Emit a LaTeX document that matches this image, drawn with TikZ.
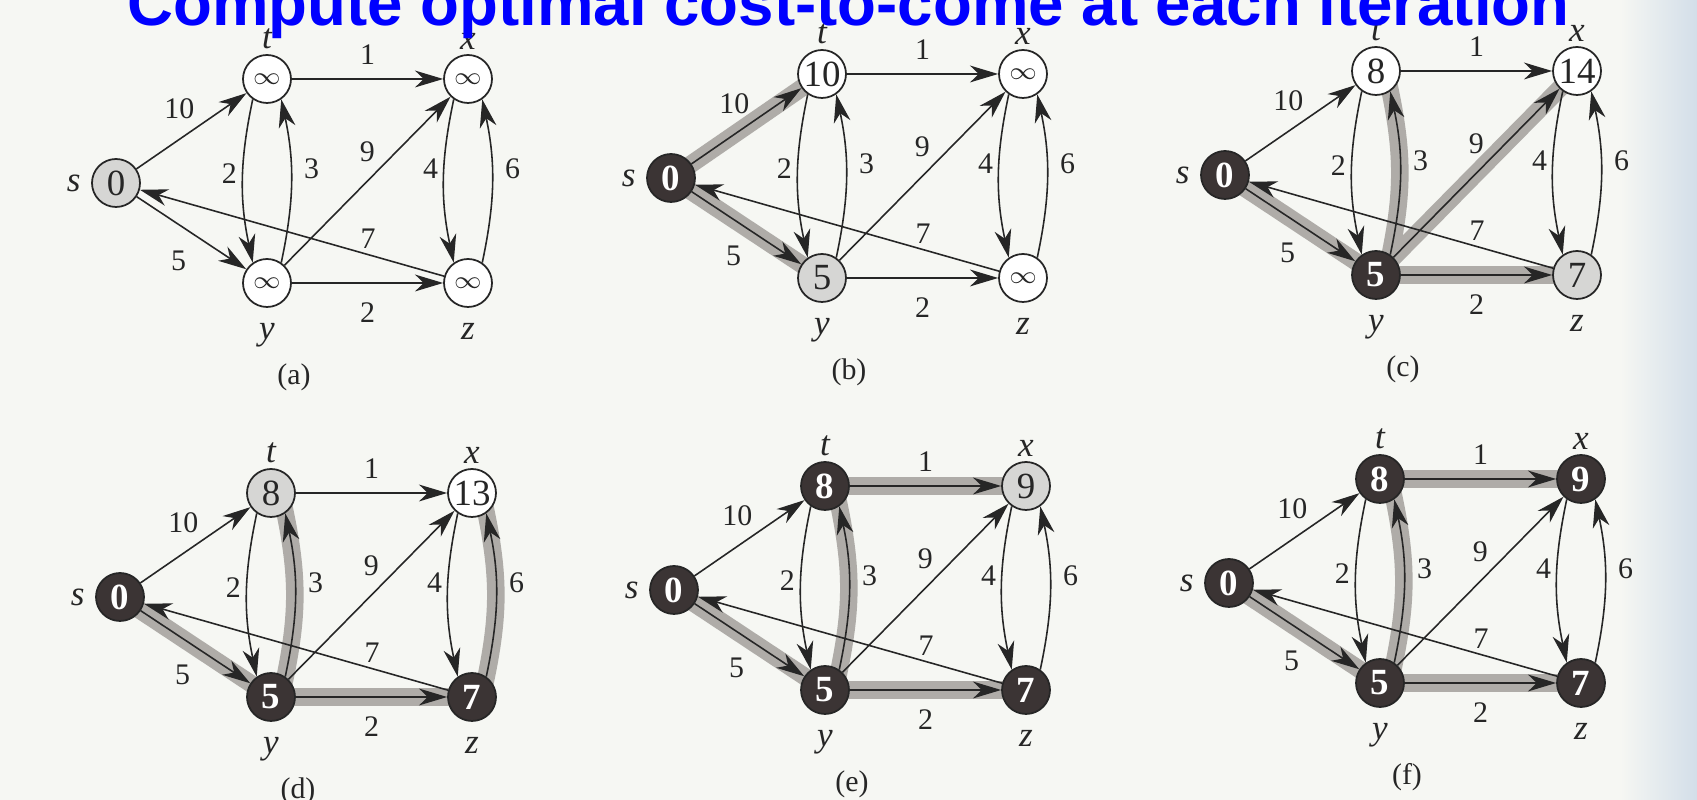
\documentclass[tikz,border=0pt]{standalone}
\usepackage{fontspec}
\setmainfont{Liberation Serif}
\newfontfamily\headfont{Liberation Sans}
\usepackage{tikz}
\usetikzlibrary{arrows.meta,positioning,backgrounds}
\usepackage{xcolor}
\definecolor{ink}{HTML}{262626}
\definecolor{nodegray}{HTML}{D6D6D4}
\definecolor{nodedark}{HTML}{3B3434}
\definecolor{bandgray}{HTML}{AFACA8}
\definecolor{paper}{HTML}{F6F7F3}
\definecolor{edgeblue}{HTML}{D3DEE9}
\definecolor{titleblue}{HTML}{0000FF}
\newcommand{\unreached}{{\fontsize{7.5}{8}\selectfont$\infty$}}

\begin{document}
\begin{tikzpicture}[
    vtx/.style={circle,draw=ink,line width=0.5pt,minimum size=0.48cm,inner sep=0pt,fill=#1,
        font=\fontsize{10.5}{12}\selectfont,text=ink},
    wnode/.style={vtx=white},
    gnode/.style={vtx=nodegray},
    bnode/.style={vtx=nodedark,text=white,font=\fontsize{10.5}{12}\selectfont\bfseries},
    nm/.style={font=\fontsize{10}{12}\selectfont\itshape,inner sep=0pt,text=ink},
    nleft/.style={label={[nm,xshift=-2.8pt]left:#1}},
    nup/.style={label={[nm,yshift=1.2pt]above:#1}},
    ndown/.style={label={[nm,yshift=-4.2pt]below:#1}},
    arr/.style={-{Stealth[length=8pt,width=4.8pt,inset=2.5pt]},line width=0.45pt,ink},
    band/.style={line width=5pt,bandgray},
    wt/.style={font=\fontsize{8.5}{10}\selectfont,inner sep=1.5pt,text=ink},
    subcap/.style={font=\fontsize{8.5}{10}\selectfont,text=ink}
]
\useasboundingbox (0,0) rectangle (16.97,8);

% (a)
\begin{scope}[shift={(1.16,6.17)}]
\node[gnode,nleft=s] (a-s) at (0,0) {0};
\node[wnode,nup=t] (a-t) at (1.51,1.04) {\unreached};
\node[wnode,nup=x] (a-x) at (3.52,1.04) {\unreached};
\node[wnode,ndown=y] (a-y) at (1.51,-1.0) {\unreached};
\node[wnode,ndown=z] (a-z) at (3.52,-1.0) {\unreached};
\node[subcap] (a-cap) at (1.78,-1.94) {(a)};
\end{scope}

% (b)
\begin{scope}[shift={(6.71,6.22)}]
\node[bnode,nleft=s] (b-s) at (0,0) {0};
\node[wnode,nup=t] (b-t) at (1.51,1.04) {10};
\node[wnode,nup=x] (b-x) at (3.52,1.04) {\unreached};
\node[gnode,ndown=y] (b-y) at (1.51,-1.0) {5};
\node[wnode,ndown=z] (b-z) at (3.52,-1.0) {\unreached};
\node[subcap] (b-cap) at (1.78,-1.94) {(b)};
\end{scope}

% (c)
\begin{scope}[shift={(12.25,6.25)}]
\node[bnode,nleft=s] (c-s) at (0,0) {0};
\node[wnode,nup=t] (c-t) at (1.51,1.04) {8};
\node[wnode,nup=x] (c-x) at (3.52,1.04) {14};
\node[bnode,ndown=y] (c-y) at (1.51,-1.0) {5};
\node[gnode,ndown=z] (c-z) at (3.52,-1.0) {7};
\node[subcap] (c-cap) at (1.78,-1.94) {(c)};
\end{scope}

% (d)
\begin{scope}[shift={(1.20,2.03)}]
\node[bnode,nleft=s] (d-s) at (0,0) {0};
\node[gnode,nup=t] (d-t) at (1.51,1.04) {8};
\node[wnode,nup=x] (d-x) at (3.52,1.04) {13};
\node[bnode,ndown=y] (d-y) at (1.51,-1.0) {5};
\node[bnode,ndown=z] (d-z) at (3.52,-1.0) {7};
\node[subcap] (d-cap) at (1.78,-1.94) {(d)};
\end{scope}

% (e)
\begin{scope}[shift={(6.74,2.10)}]
\node[bnode,nleft=s] (e-s) at (0,0) {0};
\node[bnode,nup=t] (e-t) at (1.51,1.04) {8};
\node[gnode,nup=x] (e-x) at (3.52,1.04) {9};
\node[bnode,ndown=y] (e-y) at (1.51,-1.0) {5};
\node[bnode,ndown=z] (e-z) at (3.52,-1.0) {7};
\node[subcap] (e-cap) at (1.78,-1.94) {(e)};
\end{scope}

% (f)
\begin{scope}[shift={(12.29,2.17)}]
\node[bnode,nleft=s] (f-s) at (0,0) {0};
\node[bnode,nup=t] (f-t) at (1.51,1.04) {8};
\node[bnode,nup=x] (f-x) at (3.52,1.04) {9};
\node[bnode,ndown=y] (f-y) at (1.51,-1.0) {5};
\node[bnode,ndown=z] (f-z) at (3.52,-1.0) {7};
\node[subcap] (f-cap) at (1.78,-1.94) {(f)};
\end{scope}

% shortest-path tree, under the nodes
\begin{scope}[on background layer]
\fill[paper] (0,0) rectangle (16.97,8);
\shade[left color=paper,right color=edgeblue] (16.2,0) rectangle (16.97,8);
\draw[band] (b-s.center) -- (b-t.center);
\draw[band] (b-s.center) -- (b-y.center);
\foreach \p in {c,d,e,f}{
  \draw[band] (\p-s.center) -- (\p-y.center);
  \draw[band] (\p-y.center) -- (\p-z.center);
  \draw[band,shorten <=-2pt,shorten >=-2pt] (\p-y.55) to[bend right=12] (\p-t.-55);
}
\draw[band] (c-y.center) -- (c-x.center);
\draw[band,shorten <=-2pt,shorten >=-2pt] (d-z.55) to[bend right=12] (d-x.-55);
\draw[band] (e-t.center) -- (e-x.center);
\draw[band] (f-t.center) -- (f-x.center);
\end{scope}

\foreach \p in {a,b,c,d,e,f}{
  \draw[arr] (\p-s) -- node[wt,pos=.58,above left] (\p-w10) {10} (\p-t);
  \draw[arr] (\p-s) -- node[wt,pos=.57,below left=2pt and 2pt] (\p-w5) {5} (\p-y);
  \draw[arr] (\p-t) -- node[wt,above=2.5pt] (\p-w1) {1} (\p-x);
  \draw[arr] (\p-y) -- node[wt,below=4pt] (\p-w2b) {2} (\p-z);
  \draw[arr] (\p-y) -- node[wt,pos=.58,above left] (\p-w9) {9} (\p-x);
  \draw[arr] (\p-z) -- node[wt,pos=.25,above] (\p-w7) {7} (\p-s);
  \draw[arr] (\p-t.235) to[bend right=12] node[wt,pos=.45,left] (\p-w2) {2} (\p-y.125);
  \draw[arr] (\p-y.55) to[bend right=12] node[wt,pos=.58,right=2pt] (\p-w3) {3} (\p-t.-55);
  \draw[arr] (\p-x.235) to[bend right=12] node[wt,pos=.42,left] (\p-w4) {4} (\p-z.125);
  \draw[arr] (\p-z.55) to[bend right=12] node[wt,pos=.58,right=2pt] (\p-w6) {6} (\p-x.-55);
}

\node[anchor=base,inner sep=0pt,text=titleblue,font=\headfont\bfseries\fontsize{18.1}{20}\selectfont]
  (title) at (8.485,7.74) {Compute optimal cost-to-come at each iteration};
\end{tikzpicture}
\end{document}
